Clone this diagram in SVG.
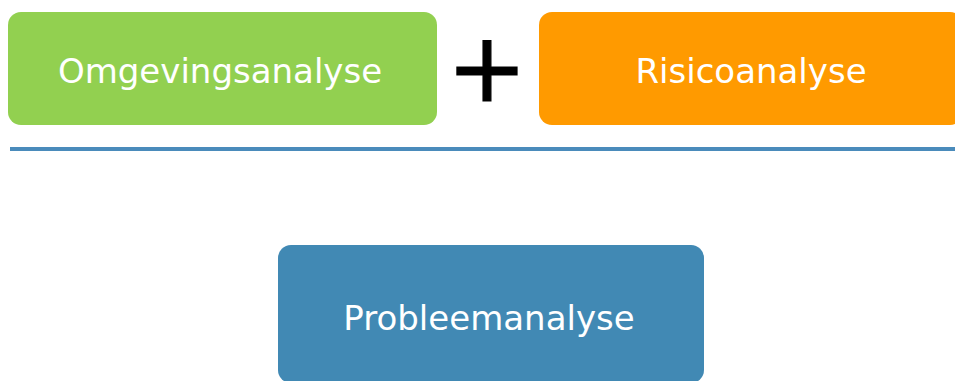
<svg xmlns="http://www.w3.org/2000/svg" width="955" height="381" viewBox="0 0 955 381">
  <style>
    .box { stroke: none; }
    .label { font-family: "DejaVu Sans", Verdana, sans-serif; font-size: 34px; fill: #ffffff; text-anchor: middle; }
    .plus { font-family: "DejaVu Sans", Verdana, sans-serif; font-size: 96px; fill: #000000; stroke: #000000; stroke-width: 1.2; text-anchor: middle; }
  </style>
  <rect x="0" y="0" width="955" height="381" fill="#ffffff"/>
  <g id="omgevingsanalyse">
    <rect class="box" x="8" y="12" width="429" height="113" rx="13" ry="13" fill="#92d050"/>
    <text class="label" x="220" y="83">Omgevingsanalyse</text>
  </g>
  <g id="plus-sign">
    <text class="plus" x="487" y="101">+</text>
  </g>
  <g id="risicoanalyse">
    <rect class="box" x="539" y="12" width="424" height="113" rx="13" ry="13" fill="#ff9a00"/>
    <text class="label" x="751" y="83">Risicoanalyse</text>
  </g>
  <g id="connectors">
    <rect x="10" y="147" width="945" height="4" fill="#4a8bbb"/>
  </g>
  <g id="probleemanalyse">
    <rect class="box" x="278" y="245" width="426" height="138" rx="13" ry="13" fill="#4189b4"/>
    <text class="label" x="489" y="330">Probleemanalyse</text>
  </g>
</svg>
